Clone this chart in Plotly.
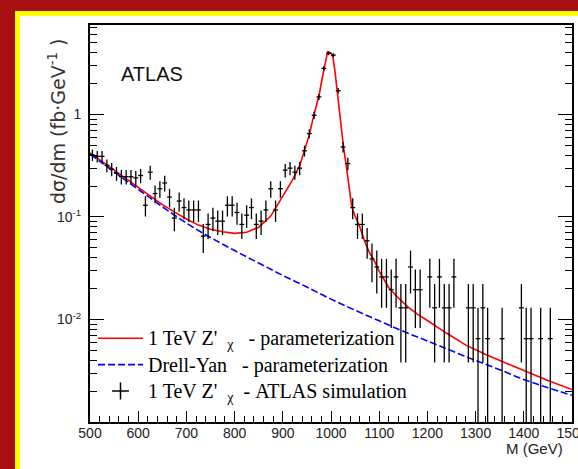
import math
import plotly.graph_objects as go

# ---------------- data ----------------
bin_centers = list(range(505, 1500, 10))          # GeV, 10 GeV bins
event_counts = [
    62, 60, 60, 49, 45, 41, 38, 38, 38, 37,        # 505-595
    39, 20, 42, 26, 29, 33, 24, 15, 22, 19,        # 605-695
    18, 18, 18, 10, 13, 15, 14, 14, 20, 20,        # 705-795
    17, 13, 16, 19, 13, 14, 18, 29, 18, 29,        # 805-895
    44, 46, 42, 46, 68, 100, 151, 228, 432, 605,   # 905-995
    583, 262, 74, 51, 19, 13, 13, 9, 6, 5,         # 1005-1095
    4, 4, 3, 4, 2, 2, 5, 3, 3, 0,                  # 1105-1195
    4, 2, 4, 2, 2, 4, 0, 0, 2, 2,                  # 1205-1295
    1, 2, 1, 0, 0, 1, 0, 0, 0, 2,                  # 1305-1395
    1, 1, 0, 1, 0, 1, 0, 0, 0, 0,                  # 1405-1495
]
event_weight = 0.0065      # fb/GeV per simulated event
half_bin = 5

zp_mass = [500, 525, 550, 575, 600, 625, 650, 675, 700, 725, 750, 775, 800,
           825, 850, 875, 900, 920, 935, 945, 955, 962, 970, 976, 982, 987,
           993, 1000, 1004, 1008, 1012, 1016, 1021, 1026, 1031, 1036, 1043,
           1050, 1060, 1070, 1080, 1090, 1100, 1120, 1140, 1160, 1180, 1200,
           1240, 1280, 1320, 1360, 1400, 1450, 1500]
zp_xsec = [0.422, 0.347, 0.285, 0.234, 0.193, 0.158, 0.132, 0.112, 0.0955,
           0.0832, 0.0759, 0.0716, 0.0692, 0.0708, 0.0794, 0.102, 0.158,
           0.229, 0.316, 0.447, 0.631, 0.879, 1.23, 1.60, 2.29, 2.91, 4.08,
           3.98, 3.63, 2.69, 1.86, 1.20, 0.703, 0.479, 0.333, 0.224, 0.126,
           0.102, 0.0794, 0.0575, 0.0447, 0.0372, 0.0295, 0.0204, 0.0162,
           0.0132, 0.0112, 0.00977, 0.00733, 0.00562, 0.00457, 0.00380,
           0.00316, 0.00254, 0.00207]

dy_mass = [500, 550, 600, 650, 700, 750, 800, 850, 900, 950, 1000, 1050,
           1100, 1150, 1200, 1250, 1300, 1350, 1400, 1450, 1500]
dy_xsec = [0.41, 0.275, 0.186, 0.126, 0.087, 0.063, 0.047, 0.0355, 0.0269,
           0.0207, 0.0158, 0.0123, 0.0097, 0.00767, 0.00617, 0.00495,
           0.00398, 0.00324, 0.0026, 0.00216, 0.00182]

x_tick_vals = [500, 600, 700, 800, 900, 1000, 1100, 1200, 1300, 1400, 1500]
x_tick_text = ["500", "600", "700", "800", "900", "1000", "1100", "1200",
               "1300", "1400", "1500"]
y_tick_vals = [0.01, 0.1, 1]
y_tick_text = ["10<sup>-2</sup>", "10<sup>-1</sup>", "1"]

# ---------------- derived ----------------
data_y = [n * event_weight if n > 0 else None for n in event_counts]
data_err = [math.sqrt(n) * event_weight if n > 0 else None for n in event_counts]

# ---------------- layout geometry ----------------
W, H = 578, 469
ML, MR, MT, MB = 90, 6, 25, 47
PW, PH = W - ML - MR, H - MT - MB


def px_x(px):
    return (px - ML) / PW


def px_y(py):
    return (H - MB - py) / PH


NB = "\u00a0"


def big(s):
    return '<span style="font-size:20px">' + s + "</span>"


fig = go.Figure()

fig.add_trace(go.Scatter(
    x=zp_mass, y=zp_xsec, mode="lines",
    line=dict(color="#ff0000", width=1.6),
    name=big("1 TeV Z'" + NB + NB + "<sub>χ</sub>" + NB + NB + NB + "- parameterization"),
    legendrank=1,
))
fig.add_trace(go.Scatter(
    x=dy_mass, y=dy_xsec, mode="lines", line_shape="spline",
    line=dict(color="#0000ff", width=1.6, dash="7px,3px"),
    name=big("Drell-Yan" + NB + NB + NB + "- parameterization"),
    legendrank=2,
))
fig.add_trace(go.Scatter(
    x=bin_centers, y=data_y, mode="markers",
    marker=dict(size=1, color="black"),
    error_y=dict(type="data", array=data_err, color="black", thickness=1.3, width=0),
    error_x=dict(type="constant", value=half_bin, color="black", thickness=1.3, width=0),
    showlegend=False,
))
fig.add_trace(go.Scatter(
    x=[None], y=[None], mode="markers",
    marker=dict(symbol="cross-thin", size=12, color="black",
                line=dict(color="black", width=1.5)),
    name=big("1 TeV Z'" + NB + NB + "<sub>χ</sub>" + NB + NB + "- ATLAS simulation"),
    legendrank=3,
))

axis_font = dict(family="Liberation Sans, Arial, sans-serif", size=14, color="#222")

fig.update_xaxes(
    range=[500, 1500], tickmode="array", tickvals=x_tick_vals, ticktext=x_tick_text,
    ticks="inside", ticklen=11, tickwidth=1.3, tickcolor="black",
    minor=dict(dtick=20, ticks="inside", ticklen=6, tickwidth=1.2, tickcolor="black"),
    showline=True, linecolor="black", linewidth=2, mirror=True,
    showgrid=False, zeroline=False, tickfont=axis_font, automargin=False,
    ticklabeloverflow="allow", ticklabelstandoff=-3,
)
minor_y = [m * 10 ** e for e in (-3, -2, -1, 0) for m in range(2, 10) if m * 10 ** e < 7.4]
fig.update_yaxes(
    type="log", range=[-3, 0.872], tickmode="array",
    tickvals=y_tick_vals, ticktext=y_tick_text,
    ticks="inside", ticklen=14, tickwidth=1.3, tickcolor="black",
    minor=dict(tickmode="array", tickvals=minor_y, ticks="inside", ticklen=7,
               tickwidth=1.2, tickcolor="black"),
    showline=True, linecolor="black", linewidth=2, mirror="ticks",
    showgrid=False, zeroline=False, tickfont=axis_font, ticklabelstandoff=4,
    automargin=False,
)

fig.update_layout(
    width=W, height=H, autosize=False,
    margin=dict(l=ML, r=MR, t=MT, b=MB, pad=0, autoexpand=False),
    paper_bgcolor="#a80f13", plot_bgcolor="white",
    showlegend=True,
    legend=dict(
        x=px_x(93), y=px_y(320), xanchor="left", yanchor="top",
        bgcolor="rgba(0,0,0,0)", borderwidth=0, itemwidth=45,
        font=dict(family="Liberation Serif, Times New Roman, serif", size=18, color="black"),
        tracegroupgap=0,
    ),
    shapes=[
        dict(type="rect", xref="paper", yref="paper", layer="below",
             x0=px_x(15), x1=px_x(620), y0=px_y(520), y1=px_y(11),
             fillcolor="#ffff00", line=dict(width=0)),
        dict(type="rect", xref="paper", yref="paper", layer="below",
             x0=px_x(20), x1=px_x(620), y0=px_y(520), y1=px_y(16),
             fillcolor="white", line=dict(width=0)),
    ],
    annotations=[
        dict(text="ATLAS", xref="paper", yref="paper", x=px_x(119), y=px_y(74),
             xanchor="left", yanchor="middle", showarrow=False,
             font=dict(family="Liberation Sans, Arial, sans-serif", size=20, color="#111")),
        dict(text="dσ/dm (fb·GeV<sup>-1</sup> )", xref="paper", yref="paper",
             x=px_x(57), y=px_y(122), xanchor="center", yanchor="middle",
             textangle=-90, showarrow=False,
             font=dict(family="DejaVu Sans, Liberation Sans, sans-serif", size=19, color="#333")),
        dict(text="M (GeV)", xref="paper", yref="paper", x=px_x(565), y=px_y(448),
             xanchor="right", yanchor="middle", showarrow=False,
             font=dict(family="Liberation Sans, Arial, sans-serif", size=15, color="#222")),
    ],
)

fig.write_html(
    "out.html",
    config={"displayModeBar": False},
    post_script="document.body.style.margin='0';document.body.style.overflow='hidden';",
)
